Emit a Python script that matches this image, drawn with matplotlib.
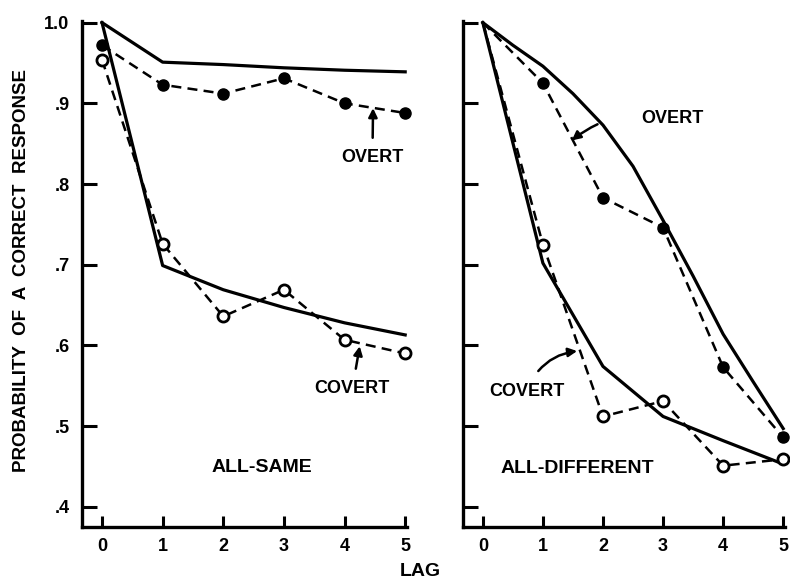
import numpy as np
import matplotlib
matplotlib.use("Agg")
import matplotlib.pyplot as plt

plt.rcParams['font.family'] = ['Liberation Sans', 'DejaVu Sans']
plt.rcParams['font.weight'] = 'bold'

# Lags
lags = [0, 1, 2, 3, 4, 5]

# ALL-SAME panel
same_overt_data = [0.972, 0.923, 0.912, 0.931, 0.900, 0.888]
same_overt_model = [1.0, 0.951, 0.948, 0.944, 0.941, 0.939]
same_covert_data = [0.954, 0.726, 0.636, 0.669, 0.607, 0.590]
same_covert_model = [1.0, 0.699, 0.669, 0.647, 0.628, 0.613]

# ALL-DIFFERENT panel
diff_overt_data = [1.0, 0.925, 0.783, 0.746, 0.573, 0.486]
diff_covert_data = [1.0, 0.725, 0.512, 0.531, 0.451, 0.459]
diff_covert_model = [1.0, 0.702, 0.574, 0.512, 0.482, 0.453]
# smooth model curve read at half lags
diff_overt_lags = [0, 0.5, 1, 1.5, 2, 2.5, 3, 3.5, 4, 4.5, 5]
diff_overt_model = [1.0, 0.972, 0.946, 0.912, 0.873, 0.822, 0.755, 0.686, 0.614, 0.555, 0.497]

yticks = [0.4, 0.5, 0.6, 0.7, 0.8, 0.9, 1.0]
ytick_labels = [".4", ".5", ".6", ".7", ".8", ".9", "1.0"]

fig = plt.figure(figsize=(7.9, 5.84), dpi=100)
ax1 = fig.add_axes([82 / 790, 1 - 527 / 584, 325 / 790, 506 / 584])
ax2 = fig.add_axes([463 / 790, 1 - 527 / 584, 322 / 790, 506 / 584])

lw = 2.3
fs = 13


def style_axis(ax, show_ylabels):
    ax.set_xlim(-0.33, 5.03)
    ax.set_ylim(0.375, 1.002)
    for s in ['top', 'right']:
        ax.spines[s].set_visible(False)
    for s in ['left', 'bottom']:
        ax.spines[s].set_linewidth(2.4)
    ax.set_xticks(lags)
    ax.set_xticklabels([str(l) for l in lags], fontsize=fs, fontweight='bold')
    ax.set_yticks(yticks)
    if show_ylabels:
        ax.set_yticklabels(ytick_labels, fontsize=fs, fontweight='bold')
    else:
        ax.set_yticklabels([])
    ax.tick_params(axis='y', direction='in', length=11, width=2.2, pad=9)
    ax.tick_params(axis='x', direction='in', length=8, width=2.2, pad=8)


# left panel
ax1.plot(lags, same_overt_model, color='black', lw=lw, clip_on=False)
ax1.plot(lags, same_covert_model, color='black', lw=lw, clip_on=False)
ax1.plot(lags, same_overt_data, color='black', lw=1.8, ls=(0, (4, 2.5)),
         marker='o', ms=8, mfc='black', mec='black', clip_on=False)
ax1.plot(lags, same_covert_data, color='black', lw=1.8, ls=(0, (4, 2.5)),
         marker='o', ms=8, mfc='white', mec='black', mew=2, clip_on=False)
style_axis(ax1, True)

ax1.annotate("OVERT", xy=(4.47, 0.894), xytext=(4.46, 0.833), ha='center', va='center',
             fontsize=fs, fontweight='bold',
             arrowprops=dict(arrowstyle='-|>', color='black', lw=1.8, shrinkA=6, shrinkB=0))
ax1.annotate("COVERT", xy=(4.25, 0.599), xytext=(4.13, 0.547), ha='center', va='center',
             fontsize=fs, fontweight='bold',
             arrowprops=dict(arrowstyle='-|>', color='black', lw=1.8, shrinkA=6, shrinkB=0))
ax1.text(2.64, 0.449, "ALL-SAME", ha='center', va='center', fontsize=14, fontweight='bold')

# right panel
ax2.plot(diff_overt_lags, diff_overt_model, color='black', lw=lw, clip_on=False)
ax2.plot(lags, diff_covert_model, color='black', lw=lw, clip_on=False)
ax2.plot(lags, diff_overt_data, color='black', lw=1.8, ls=(0, (4, 2.5)),
         marker='o', ms=8, mfc='black', mec='black', markevery=[1, 2, 3, 4, 5], clip_on=False)
ax2.plot(lags, diff_covert_data, color='black', lw=1.8, ls=(0, (4, 2.5)),
         marker='o', ms=8, mfc='white', mec='black', mew=2, markevery=[1, 2, 3, 4, 5],
         clip_on=False)
style_axis(ax2, False)

ax2.annotate("OVERT", xy=(1.48, 0.854), xytext=(3.15, 0.881), ha='center', va='center',
             fontsize=fs, fontweight='bold',
             arrowprops=dict(arrowstyle='-|>', color='black', lw=1.8, shrinkA=30, shrinkB=0,
                             connectionstyle='arc3,rad=0.25'))
ax2.annotate("COVERT", xy=(1.57, 0.593), xytext=(0.73, 0.543), ha='center', va='center',
             fontsize=fs, fontweight='bold',
             arrowprops=dict(arrowstyle='-|>', color='black', lw=1.8, shrinkA=8, shrinkB=0,
                             connectionstyle='arc3,rad=-0.3'))
ax2.text(1.58, 0.447, "ALL-DIFFERENT", ha='center', va='center', fontsize=14, fontweight='bold')

fig.text(420 / 790, 1 - 572 / 584, "LAG", ha='center', va='center', fontsize=14,
         fontweight='bold')
fig.text(22 / 790, 1 - 270 / 584, "PROBABILITY  OF  A  CORRECT  RESPONSE", rotation=90,
         ha='center', va='center', fontsize=13.5, fontweight='bold')

fig.savefig("out.png", dpi=100)
